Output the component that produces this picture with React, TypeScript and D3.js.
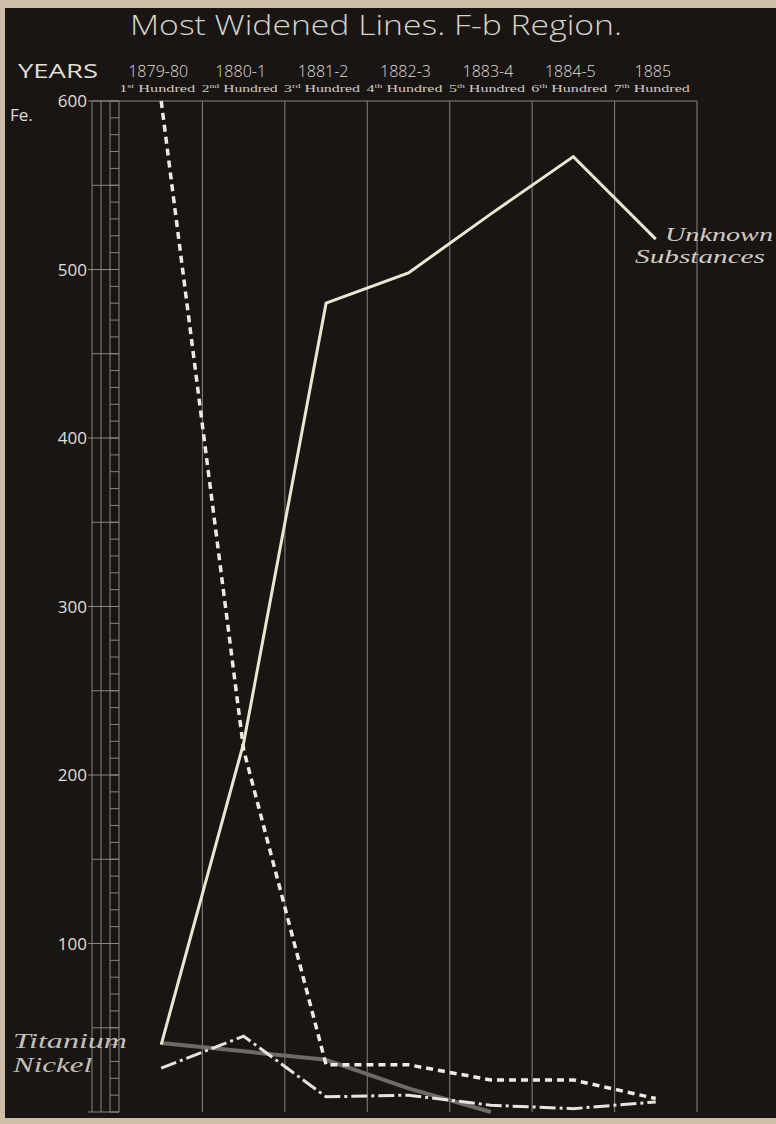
import React from "react";
import * as d3 from "d3";

const years = ["1879-80", "1880-1", "1881-2", "1882-3", "1883-4", "1884-5", "1885"];
const hundredNums = ["1", "2", "3", "4", "5", "6", "7"];
const hundredSups = ["st", "nd", "rd", "th", "th", "th", "th"];
const unknownSubstances = [40, 219, 480, 498, 533, 567, 518];
const iron = [600, 215, 28, 28, 19, 19, 8];
const nickel = [26, 45, 9, 10, 4, 2, 6];
const titanium = [41, 36, 31, 14, 0];
const yTicks = [100, 200, 300, 400, 500, 600];

const W = 776;
const H = 1124;

export default function App() {
  const x = d3.scaleBand<string>().domain(years).range([120, 697]).paddingInner(0).paddingOuter(0);
  const y = d3.scaleLinear().domain([0, 600]).range([1112, 101]);
  const cx = (i: number) => (x(years[i]) as number) + x.bandwidth() / 2;
  const line = d3
    .line<number>()
    .x((_, i) => cx(i))
    .y((d) => y(d));

  const minorTicks = d3.range(0, 601, 10);
  const midTicks = d3.range(0, 601, 50);
  const top = y(600);
  const bottom = y(0);

  const gridColor = "#76726d";
  const ladderColor = "#8a8680";
  const sans = "'Open Sans', 'DejaVu Sans', sans-serif";

  return (
    <svg
      width={W}
      height={H}
      style={{ position: "absolute", left: 0, top: 0, display: "block" }}
    >
      <rect x={0} y={0} width={W} height={H} fill="#cdbfa5" />
      <rect x={5} y={8} width={W - 5} height={1110} fill="#181513" />

      {/* Title */}
      <text
        x={130}
        y={35}
        textLength={492}
        lengthAdjust="spacingAndGlyphs"
        fontFamily={sans}
        fontWeight={300}
        fontSize={28}
        fill="#d6d2ca"
      >
        Most Widened Lines.  F-b Region.
      </text>

      {/* Header */}
      <text
        x={18}
        y={78}
        textLength={80}
        lengthAdjust="spacingAndGlyphs"
        fontFamily={sans}
        fontSize={20}
        fill="#e2ded6"
      >
        YEARS
      </text>
      {years.map((yr, i) => (
        <text
          key={yr}
          x={cx(i) - 3}
          y={77}
          textAnchor="middle"
          fontFamily={sans}
          fontWeight={300}
          fontSize={16}
          fill="#e2ded6"
        >
          {yr}
        </text>
      ))}
      {years.map((yr, i) => (
        <text
          key={"h" + yr}
          x={cx(i) - 42}
          y={92}
          textLength={76}
          lengthAdjust="spacingAndGlyphs"
          fontFamily="Liberation Serif, serif"
          fontSize={11}
          fill="#cfcbc3"
        >
          {hundredNums[i]}
          <tspan fontSize={7} dy={-4}>
            {hundredSups[i]}
          </tspan>
          <tspan dy={4}>{" Hundred"}</tspan>
        </text>
      ))}

      {/* Y axis labels */}
      <text x={10} y={121} fontFamily={sans} fontSize={17} fill="#e2ded6">
        Fe.
      </text>
      {yTicks.map((t) => (
        <text
          key={t}
          x={87}
          y={y(t) + 6}
          textAnchor="end"
          fontFamily={sans}
          fontSize={17}
          fill="#e2ded6"
        >
          {t}
        </text>
      ))}

      {/* Ladder axis */}
      {[92, 101, 110, 119].map((lx) => (
        <line key={lx} x1={lx} x2={lx} y1={top} y2={bottom} stroke={ladderColor} strokeWidth={1} />
      ))}
      {minorTicks.map((t) => (
        <line key={"m" + t} x1={110} x2={119} y1={y(t)} y2={y(t)} stroke={ladderColor} strokeWidth={1} />
      ))}
      {midTicks.map((t) => (
        <line
          key={"d" + t}
          x1={t % 100 === 0 ? 88 : 92}
          x2={119}
          y1={y(t)}
          y2={y(t)}
          stroke={ladderColor}
          strokeWidth={1}
        />
      ))}

      {/* Grid */}
      <line x1={92} x2={697} y1={top} y2={top} stroke={ladderColor} strokeWidth={1.2} />
      {years.map((yr) => {
        const gx = (x(yr) as number) + x.bandwidth();
        return (
          <line key={"g" + yr} x1={gx} x2={gx} y1={top} y2={bottom} stroke={gridColor} strokeWidth={1.2} />
        );
      })}

      {/* Series */}
      <path d={line(titanium) || ""} fill="none" stroke="#6e6a66" strokeWidth={4} strokeLinejoin="round" />
      <path
        d={line(nickel) || ""}
        fill="none"
        stroke="#e8e4dc"
        strokeWidth={3}
        strokeDasharray="16,4,3,4"
      />
      <path
        d={line(iron) || ""}
        fill="none"
        stroke="#eeeae2"
        strokeWidth={3.5}
        strokeDasharray="7,5"
      />
      <path
        d={line(unknownSubstances) || ""}
        fill="none"
        stroke="#ece6d0"
        strokeWidth={3}
        strokeLinejoin="miter"
      />

      {/* Series labels */}
      <text
        x={665}
        y={241}
        textLength={108}
        lengthAdjust="spacingAndGlyphs"
        fontFamily="Liberation Serif, serif"
        fontStyle="italic"
        fontSize={18}
        fill="#cfcbc3"
      >
        Unknown
      </text>
      <text
        x={635}
        y={263}
        textLength={130}
        lengthAdjust="spacingAndGlyphs"
        fontFamily="Liberation Serif, serif"
        fontStyle="italic"
        fontSize={18}
        fill="#cfcbc3"
      >
        Substances
      </text>
      <text
        x={13}
        y={1048}
        textLength={114}
        lengthAdjust="spacingAndGlyphs"
        fontFamily="Liberation Serif, serif"
        fontStyle="italic"
        fontSize={21}
        fill="#c4c0b8"
      >
        Titanium
      </text>
      <text
        x={13}
        y={1072}
        textLength={79}
        lengthAdjust="spacingAndGlyphs"
        fontFamily="Liberation Serif, serif"
        fontStyle="italic"
        fontSize={21}
        fill="#c4c0b8"
      >
        Nickel
      </text>
    </svg>
  );
}
